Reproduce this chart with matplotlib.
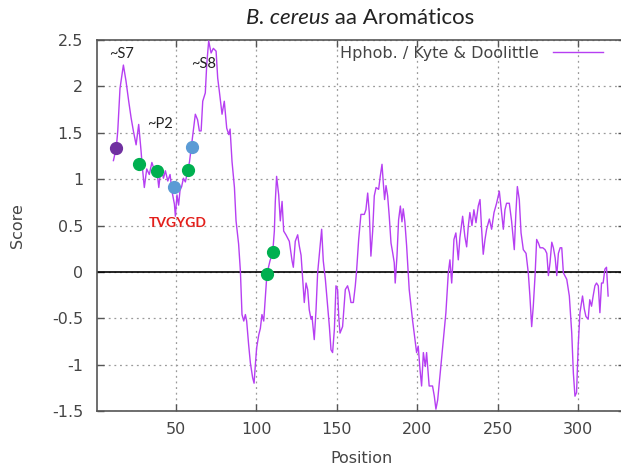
import matplotlib
matplotlib.use('Agg')
import matplotlib.pyplot as plt

# ── Data ──────────────────────────────────────────────────────────────────────
position = [
    11.2, 13.0, 13.9, 15.3, 17.4, 19.0, 20.7, 22.2, 23.6, 25.3, 26.9, 28.4, 29.0, 30.4,
    31.9, 33.5, 35.1, 36.6, 38.3, 39.4, 40.8, 42.3, 43.5, 45.0, 46.4, 47.6, 49.1, 49.7,
    50.7, 51.7, 52.6, 53.6, 54.7, 55.9, 57.4, 58.5, 59.5, 60.9, 62.1, 63.5, 64.6, 65.7,
    66.7, 68.3, 69.2, 70.4, 71.9, 73.3, 75.0, 76.0, 77.0, 78.7, 80.1, 81.6, 82.9, 83.7,
    84.9, 86.4, 87.4, 89.0, 90.1, 91.1, 92.2, 93.2, 94.0, 95.2, 96.3, 97.7, 98.6, 99.4,
    100.2, 101.5, 102.5, 103.5, 104.6, 105.4, 106.6, 108.5, 110.2, 111.2, 111.8, 112.6,
    113.9, 114.9, 116.0, 117.0, 118.4, 120.5, 122.2, 123.0, 124.2, 125.7, 126.7, 127.8,
    128.8, 129.8, 130.9, 131.9, 132.9, 134.0, 134.6, 136.0, 137.1, 138.1, 139.6, 140.6,
    141.6, 142.9, 144.3, 145.4, 146.4, 147.4, 148.5, 149.5, 150.5, 151.2, 152.0, 153.6,
    155.3, 156.7, 157.8, 158.8, 160.3, 161.5, 162.3, 163.6, 165.0, 167.1, 168.1, 169.2,
    170.2, 171.2, 172.3, 173.3, 174.4, 176.0, 177.0, 178.1, 178.9, 179.7, 180.6, 181.6,
    182.6, 183.7, 184.7, 185.7, 186.3, 187.4, 188.4, 189.5, 190.5, 191.3, 192.3, 193.4,
    195.0, 197.0, 198.6, 199.6, 200.6, 201.7, 202.7, 203.8, 205.0, 205.8, 207.4, 209.5,
    210.6, 211.6, 212.7, 214.1, 215.8, 217.8, 219.3, 220.3, 221.4, 222.0, 222.8, 224.0,
    225.5, 226.5, 228.2, 229.6, 230.7, 231.7, 232.7, 234.0, 235.2, 236.5, 237.9, 239.0,
    240.0, 241.0, 242.1, 243.1, 244.8, 246.2, 247.7, 249.3, 251.0, 252.4, 253.5, 254.5,
    255.5, 257.2, 258.6, 260.3, 261.3, 262.2, 263.4, 264.5, 265.9, 267.6, 269.0, 270.0,
    271.1, 272.1, 273.2, 274.2, 275.3, 276.3, 278.0, 279.4, 280.5, 281.5, 282.5, 283.6,
    284.6, 285.7, 286.7, 287.7, 288.8, 289.8, 290.8, 292.9, 294.5, 296.0, 297.0, 298.0,
    299.0, 300.0, 301.1, 302.7, 303.8, 304.8, 306.2, 307.2, 308.3, 309.3, 310.4, 311.4,
    312.5, 313.5, 314.5, 315.5, 316.6, 317.6, 318.6,
]
score = [
    1.20, 1.34, 1.52, 1.98, 2.23, 2.06, 1.84, 1.66, 1.52, 1.37, 1.59, 1.30, 1.16, 0.91,
    1.11, 1.05, 1.18, 1.10, 1.08, 0.91, 1.13, 1.01, 1.09, 0.98, 1.05, 0.87, 0.73, 0.60,
    0.83, 0.72, 0.88, 0.92, 1.01, 0.97, 1.09, 1.19, 1.33, 1.52, 1.70, 1.64, 1.52, 1.52,
    1.84, 1.93, 2.24, 2.49, 2.36, 2.41, 2.38, 2.09, 1.95, 1.70, 1.84, 1.55, 1.48, 1.54,
    1.19, 0.91, 0.55, 0.30, 0.01, -0.46, -0.53, -0.46, -0.53, -0.78, -0.98, -1.14, -1.20, -1.00,
    -0.82, -0.68, -0.61, -0.46, -0.53, -0.32, -0.02, 0.12, 0.21, 0.44, 0.76, 1.03,
    0.83, 0.55, 0.76, 0.44, 0.40, 0.33, 0.12, 0.05, 0.33, 0.40, 0.28, 0.18,
    -0.08, -0.33, -0.12, -0.19, -0.41, -0.51, -0.48, -0.73, -0.41, -0.01, 0.27, 0.46,
    0.12, -0.08, -0.37, -0.59, -0.84, -0.87, -0.62, -0.15, -0.19, -0.48, -0.66, -0.59,
    -0.19, -0.15, -0.22, -0.33, -0.33, -0.15, 0.01, 0.35, 0.62, 0.62, 0.67, 0.85,
    0.64, 0.17, 0.44, 0.82, 0.91, 0.89, 1.03, 1.16, 0.96, 0.78, 0.93, 0.82,
    0.60, 0.31, 0.21, 0.10, -0.12, 0.17, 0.56, 0.71, 0.54, 0.68, 0.54, 0.28,
    -0.19, -0.51, -0.73, -0.87, -0.80, -1.05, -1.23, -0.87, -1.02, -0.87, -1.23, -1.23,
    -1.34, -1.48, -1.38, -1.12, -0.80, -0.44, -0.01, 0.13, -0.12, 0.06, 0.35, 0.42,
    0.13, 0.37, 0.60, 0.38, 0.27, 0.49, 0.64, 0.50, 0.67, 0.53, 0.71, 0.78,
    0.46, 0.19, 0.35, 0.46, 0.57, 0.46, 0.64, 0.74, 0.87, 0.64, 0.46, 0.67,
    0.74, 0.74, 0.55, 0.24, 0.64, 0.92, 0.78, 0.42, 0.24, 0.20, -0.01, -0.26,
    -0.59, -0.37, -0.04, 0.35, 0.31, 0.26, 0.26, 0.24, 0.20, -0.04, 0.10, 0.32,
    0.26, 0.15, -0.04, 0.20, 0.26, 0.26, -0.01, -0.08, -0.26, -0.66, -1.09, -1.34,
    -1.30, -0.80, -0.44, -0.26, -0.40, -0.48, -0.51, -0.30, -0.37, -0.26, -0.15, -0.12,
    -0.15, -0.44, -0.12, -0.12, 0.03, 0.05, -0.26,
]

# aromatic residues marked on the profile
dot_pos = [12.9, 27.0, 38.3, 48.7, 57.4, 60.0, 106.6, 110.2]
dot_score = [1.34, 1.16, 1.085, 0.91, 1.095, 1.35, -0.02, 0.21]
dot_color = ['#7030a0', '#00b050', '#00b050', '#5b9bd5', '#00b050', '#5b9bd5',
             '#00b050', '#00b050']

x_ticks = [50, 100, 150, 200, 250, 300]
y_ticks = [-1.5, -1, -0.5, 0, 0.5, 1, 1.5, 2, 2.5]
y_tick_labels = ['-1.5', '-1', '-0.5', '0', '0.5', '1', '1.5', '2', '2.5']

LINE = '#b63ff2'
TXT = '#454545'

# ── Figure ────────────────────────────────────────────────────────────────────
fig = plt.figure(figsize=(6.21, 4.72), dpi=100, facecolor='white')
ax = fig.add_axes([0.1562, 0.1292, 0.850, 0.786])
ax.set_xlim(1, 329)
ax.set_ylim(-1.5, 2.5)

ax.grid(True, color='#9a9a9a', ls=(0, (1.5, 3)), lw=0.9)
ax.set_axisbelow(True)
ax.axhline(0, color='black', lw=1.2, zorder=2)

ax.plot(position, score, color=LINE, lw=1.0, zorder=3,
        label='Hphob. / Kyte & Doolittle')
for xp, yp, c in zip(dot_pos, dot_score, dot_color):
    ax.plot(xp, yp, 'o', ms=8.5, color=c, mec=c, zorder=4)

# ── Axes styling ─────────────────────────────────────────────────────────────
ax.set_xticks(x_ticks)
ax.set_yticks(y_ticks)
ax.set_yticklabels(y_tick_labels)
ax.tick_params(direction='in', top=True, right=True, length=5, width=1,
               color='#555555', labelsize=11.5, labelcolor=TXT)
ax.tick_params(axis='y', pad=10)
ax.tick_params(axis='x', pad=8)
for s in ax.spines.values():
    s.set_color('#555555')
    s.set_linewidth(1.2)

ax.set_xlabel('Position', fontsize=11.5, color=TXT)
ax.set_ylabel('Score', fontsize=11.5, color=TXT)
ax.xaxis.set_label_coords(0.502, -0.108)
ax.yaxis.set_label_coords(-0.136, 0.5)

leg = ax.legend(loc='center right', bbox_to_anchor=(0.958, 0.965), frameon=False,
                markerfirst=False, handlelength=3.1, handletextpad=0.9,
                borderpad=0, borderaxespad=0, fontsize=11.5)
for t in leg.get_texts():
    t.set_color(TXT)

# ── Labels ────────────────────────────────────────────────────────────────────
ax.text(16, 2.35, '~S7', ha='center', va='center', fontsize=10.5,
        family='Lato', color='#222222', zorder=5)
ax.text(40.2, 1.59, '~P2', ha='center', va='center', fontsize=10.5,
        family='Lato', color='#222222', zorder=5)
ax.text(67.5, 2.24, '~S8', ha='center', va='center', fontsize=10.5,
        family='Lato', color='#222222', zorder=5)
ax.text(51.4, 0.53, 'TVGYGD', ha='center', va='center', fontsize=10,
        family='Lato', weight='bold', color='#e3201c', zorder=5)

fig.text(0.530, 0.962, 'B. cereus', ha='right', va='center', fontsize=16,
         family='Lato', style='italic', color='#222222')
fig.text(0.530, 0.962, ' aa Aromáticos', ha='left', va='center', fontsize=16,
         family='Lato', color='#222222')

fig.savefig('out.png', dpi=100)
